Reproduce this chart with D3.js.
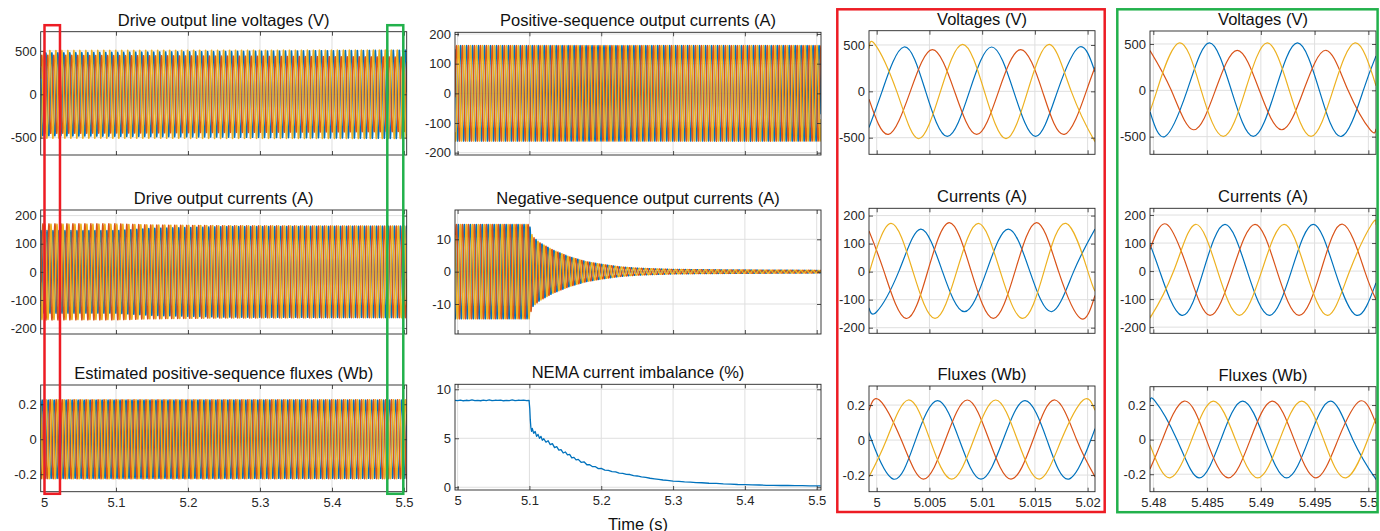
<!DOCTYPE html>
<html>
<head>
<meta charset="utf-8">
<script src="https://cdn.jsdelivr.net/npm/d3@7"></script>
<style>
  html, body { margin: 0; padding: 0; background: #fff; }
  svg { display: block; }
</style>
</head>
<body>
<svg id="fig" width="1380" height="531"></svg>
<script>
// ---------- tick values ----------
const overviewTicks = [5, 5.1, 5.2, 5.3, 5.4, 5.5];
const startTicks = [5, 5.005, 5.01, 5.015, 5.02];
const endTicks = [5.48, 5.485, 5.49, 5.495, 5.5];
const voltageTicks = [500, 0, -500];
const currentTicks = [200, 100, 0, -100, -200];
const fluxTicks = [0.2, 0, -0.2];
const negSeqTicks = [10, 0, -10];
const imbalanceTicks = [10, 5, 0];

// ---------- phase colours (a, b, c) ----------
const phaseColors = ["#0072BD", "#D95319", "#EDB120"];

// ---------- overview signals: 3-phase 120 Hz quantities ----------
const carrierHz = 120.2;
// time of a positive peak of each phase (a, b, c)
const voltagePeakTimes = [5.00259, 5.00528, 4.99984];
const currentPeakTimes = [5.00417, 5.00689, 5.00136];
const negSeqPeakTimes = [5.0010, 5.0066, 5.0038];
const fluxPeakTimes = [5.00578, 5.00025, 5.00300];

// amplitude envelopes (time points shared per quantity)
const voltageEnvelopeTimes = [4.99, 5.51];
const voltageAmplitudes = [[478, 511], [452, 430], [507, 511]];
const currentEnvelopeTimes = [4.99, 5.10, 5.15, 5.25, 5.51];
const currentAmplitudes = [[147, 147, 155, 161, 163], [171, 171, 167, 164, 163], [170, 170, 167, 164, 163]];
const posSeqEnvelopeTimes = [4.99, 5.51];
const posSeqAmplitudes = [[161, 161], [161, 161], [161, 161]];
const negSeqEnvelopeTimes = [4.99, 5.1, 5.1023, 5.1047, 5.114, 5.1326, 5.1558, 5.179, 5.2, 5.2256, 5.2488, 5.272, 5.3, 5.3419, 5.4116, 5.51];
const negSeqAmplitude = [14.6, 14.6, 12.2, 10.8, 9.0, 6.7, 4.6, 3.1, 2.3, 1.5, 1.1, 0.9, 0.7, 0.6, 0.5, 0.4];
const fluxEnvelopeTimes = [4.99, 5.51];
const fluxAmplitudes = [[0.224, 0.224], [0.226, 0.226], [0.226, 0.226]];

// NEMA current imbalance (%) versus time (s)
const nemaImbalance = [
  [4.9964, 8.86], [5.000, 8.84], [5.004, 8.90], [5.008, 8.83], [5.012, 8.88], [5.016, 8.85], [5.020, 8.92],
  [5.024, 8.84], [5.028, 8.87], [5.032, 8.83], [5.036, 8.89], [5.040, 8.85], [5.044, 8.91], [5.048, 8.84],
  [5.052, 8.88], [5.056, 8.86], [5.060, 8.90], [5.064, 8.83], [5.068, 8.87], [5.072, 8.85], [5.076, 8.91],
  [5.080, 8.84], [5.084, 8.88], [5.088, 8.86], [5.092, 8.89], [5.096, 8.85], [5.0995, 8.87],
  [5.1005, 8.0], [5.1012, 6.9], [5.102, 6.1], [5.103, 5.7], [5.104, 6.0], [5.106, 5.5], [5.108, 5.7],
  [5.110, 5.2], [5.112, 5.4], [5.114, 5.0], [5.116, 5.2], [5.118, 4.8], [5.120, 4.95],
  [5.123, 4.6], [5.126, 4.75], [5.129, 4.35], [5.132, 4.45], [5.135, 4.05], [5.138, 4.15], [5.141, 3.8],
  [5.144, 3.85], [5.147, 3.5], [5.150, 3.6], [5.153, 3.3], [5.156, 3.35], [5.159, 3.0], [5.162, 3.05],
  [5.165, 2.8], [5.168, 2.85], [5.172, 2.55], [5.176, 2.6], [5.180, 2.3], [5.184, 2.3], [5.188, 2.1],
  [5.192, 2.1], [5.196, 1.9], [5.200, 1.92], [5.205, 1.75], [5.210, 1.72], [5.215, 1.6], [5.220, 1.58],
  [5.225, 1.45], [5.230, 1.42], [5.235, 1.32], [5.240, 1.3], [5.245, 1.18], [5.250, 1.15], [5.256, 1.05],
  [5.262, 1.0], [5.268, 0.92], [5.274, 0.86], [5.280, 0.8], [5.286, 0.74], [5.292, 0.7], [5.300, 0.62],
  [5.308, 0.6], [5.316, 0.54], [5.324, 0.52], [5.332, 0.47], [5.340, 0.46], [5.350, 0.41], [5.360, 0.39],
  [5.370, 0.34], [5.380, 0.32], [5.390, 0.28], [5.400, 0.27], [5.410, 0.24], [5.420, 0.23], [5.430, 0.2],
  [5.440, 0.2], [5.450, 0.18], [5.460, 0.18], [5.470, 0.16], [5.480, 0.16], [5.490, 0.15], [5.500, 0.15],
  [5.5055, 0.14]
];

// ---------- detail window at the start of the record (t, value) ----------
const startVoltageA = [[4.99927,-390],[5.00051,0],[5.00259,478],[5.00464,0],[5.00670,-486],[5.00880,0],[5.01090,478],[5.01299,0],[5.01507,-486],[5.01714,0],[5.01921,478],[5.02070,210]];
const startVoltageB = [[4.99927,-85],[5.00111,-464],[5.00319,0],[5.00528,450],[5.00738,0],[5.00948,-464],[5.01156,0],[5.01365,450],[5.01572,0],[5.01779,-464],[5.01987,0],[5.02070,260]];
const startVoltageC = [[4.99927,461],[4.99984,507],[5.00190,0],[5.00395,-511],[5.00605,0],[5.00815,507],[5.01021,0],[5.01226,-511],[5.01431,0],[5.01637,507],[5.01845,0],[5.02054,-511],[5.02070,-508]];
const startCurrentA = [[4.99927,-129],[5.00000,-143],[5.00209,0],[5.00417,152],[5.00624,0],[5.00831,-143],[5.01040,0],[5.01248,152],[5.01453,0],[5.01659,-143],[5.01867,0],[5.02070,152]];
const startCurrentB = [[4.99927,145],[5.00070,0],[5.00278,-167],[5.00483,0],[5.00689,175],[5.00897,0],[5.01106,-167],[5.01311,0],[5.01517,175],[5.01725,0],[5.01934,-167],[5.02070,-85]];
const startCurrentC = [[4.99927,-6],[5.00136,172],[5.00344,0],[5.00553,-167],[5.00758,0],[5.00964,172],[5.01172,0],[5.01384,-167],[5.01586,0],[5.01795,172],[5.02003,0],[5.02070,-70]];
const startFluxA = [[4.99927,0.04],[4.99951,0],[5.00158,-0.223],[5.00368,0],[5.00578,0.225],[5.00784,0],[5.00989,-0.223],[5.01198,0],[5.01406,0.225],[5.01615,0],[5.01823,-0.223],[5.02030,0],[5.02070,0.066]];
const startFluxB = [[4.99927,0.17],[5.00025,0.229],[5.00234,0],[5.00442,-0.223],[5.00651,0],[5.00859,0.229],[5.01066,0],[5.01273,-0.223],[5.01482,0],[5.01690,0.229],[5.01897,0],[5.02070,-0.21]];
const startFluxC = [[4.99927,-0.21],[5.00092,0],[5.00300,0.229],[5.00506,0],[5.00711,-0.223],[5.00919,0],[5.01128,0.229],[5.01335,0],[5.01542,-0.223],[5.01750,0],[5.01959,0.229],[5.02070,0.17]];

// ---------- detail window at the end of the record (t, value) ----------
const endVoltageA = [[5.47969,-230],[5.48109,-497],[5.48315,0],[5.48521,511],[5.48726,0],[5.48930,-497],[5.49135,0],[5.49340,511],[5.49544,0],[5.49749,-497],[5.49953,0],[5.50071,370]];
const endVoltageB = [[5.47969,430],[5.48167,0],[5.48372,-425],[5.48577,0],[5.48781,432],[5.48986,0],[5.49194,-425],[5.49398,0],[5.49606,432],[5.49811,0],[5.50016,-425],[5.50071,-415]];
const endVoltageC = [[5.47969,-220],[5.48034,0],[5.48239,511],[5.48445,0],[5.48651,-497],[5.48856,0],[5.49060,511],[5.49264,0],[5.49467,-497],[5.49671,0],[5.49876,511],[5.50071,50]];
const endCurrentA = [[5.47969,95],[5.48059,0],[5.48264,-158],[5.48465,0],[5.48667,167],[5.48873,0],[5.49079,-158],[5.49284,0],[5.49488,167],[5.49690,0],[5.49891,-158],[5.50071,-42]];
const endCurrentB = [[5.47969,77],[5.48124,167],[5.48326,0],[5.48527,-158],[5.48735,0],[5.48946,167],[5.49150,0],[5.49355,-158],[5.49558,0],[5.49761,167],[5.49966,0],[5.50071,-101]];
const endCurrentC = [[5.47969,-157],[5.47984,-158],[5.48189,0],[5.48394,167],[5.48598,0],[5.48800,-158],[5.49008,0],[5.49216,167],[5.49419,0],[5.49622,-158],[5.49826,0],[5.50031,167],[5.50071,165]];
const endFluxA = [[5.47969,0.217],[5.48016,0.223],[5.48220,0],[5.48425,-0.221],[5.48628,0],[5.48831,0.223],[5.49036,0],[5.49240,-0.221],[5.49445,0],[5.49650,0.223],[5.49856,0],[5.50062,-0.221],[5.50071,-0.221]];
const endFluxB = [[5.47969,-0.17],[5.48084,0],[5.48288,0.223],[5.48493,0],[5.48698,-0.221],[5.48902,0],[5.49107,0.223],[5.49310,0],[5.49513,-0.221],[5.49718,0],[5.49922,0.223],[5.50071,0.092]];
const endFluxC = [[5.47969,-0.03],[5.48155,-0.221],[5.48357,0],[5.48558,0.223],[5.48764,0],[5.48971,-0.221],[5.49175,0],[5.49380,0.223],[5.49584,0],[5.49792,-0.221],[5.49994,0],[5.50071,0.126]];

// time spans of the two detail windows, marked on the overview
const detailWindows = [[5.0007, 5.0222], [5.4768, 5.4990]];

// ---------- drawing ----------
const FONT = '"Liberation Sans", Arial, Helvetica, sans-serif';
const INK = "#262626";
const GRID = "#dfdfdf";
const svg = d3.select("#fig");
const defs = svg.append("defs");

const leftDomain = [4.99542, 5.50375];
const midDomain = [4.99638, 5.50598];
const startDomain = [4.99927, 5.0207];
const endDomain = [5.47969, 5.50071];
const SAMPLE = 4e-5;

function synthesize(peakTimes, envTimes, envAmps, domain) {
  return peakTimes.map((tp, k) => {
    const env = d3.scaleLinear().domain(envTimes).range(envAmps[k]).clamp(true);
    return d3.range(domain[0], domain[1] + SAMPLE, SAMPLE)
      .map(t => [t, env(t) * Math.cos(2 * Math.PI * carrierHz * (t - tp))]);
  });
}
const repeat3 = a => [a, a, a];

const panels = [
  { box: [40.7, 31.7, 406.7, 155], xDomain: leftDomain, yDomain: [-700, 722], xTicks: overviewTicks, yTicks: voltageTicks,
    title: "Drive output line voltages (V)", lw: 1.4,
    series: synthesize(voltagePeakTimes, voltageEnvelopeTimes, voltageAmplitudes, leftDomain) },
  { box: [40.7, 210, 406.7, 334], xDomain: leftDomain, yDomain: [-221, 220], xTicks: overviewTicks, yTicks: currentTicks,
    title: "Drive output currents (A)", lw: 1.4,
    series: synthesize(currentPeakTimes, currentEnvelopeTimes, currentAmplitudes, leftDomain) },
  { box: [40.7, 385, 406.7, 491.7], xDomain: leftDomain, yDomain: [-0.3, 0.31], xTicks: overviewTicks, yTicks: fluxTicks,
    title: "Estimated positive-sequence fluxes (Wb)", lw: 1.4, xLabels: true,
    series: synthesize(fluxPeakTimes, fluxEnvelopeTimes, fluxAmplitudes, leftDomain) },
  { box: [455, 32.3, 821, 155], xDomain: midDomain, yDomain: [-207.7, 205.7], xTicks: overviewTicks, yTicks: currentTicks,
    title: "Positive-sequence output currents (A)", lw: 1.4,
    series: synthesize(currentPeakTimes, posSeqEnvelopeTimes, posSeqAmplitudes, midDomain) },
  { box: [455, 210, 821, 334], xDomain: midDomain, yDomain: [-19.27, 19.06], xTicks: overviewTicks, yTicks: negSeqTicks,
    title: "Negative-sequence output currents (A)", lw: 1.4,
    series: synthesize(negSeqPeakTimes, negSeqEnvelopeTimes, repeat3(negSeqAmplitude), midDomain) },
  { box: [455, 384.3, 821, 490], xDomain: midDomain, yDomain: [-0.28, 10.51], xTicks: overviewTicks, yTicks: imbalanceTicks,
    title: "NEMA current imbalance (%)", lw: 1.3, xLabels: true,
    series: [nemaImbalance], colors: [phaseColors[0]] },
  { box: [869, 30.7, 1095, 154.3], xDomain: startDomain, yDomain: [-679, 654], xTicks: startTicks, yTicks: voltageTicks,
    title: "Voltages (V)", lw: 1.2, curve: d3.curveNatural,
    series: [startVoltageA, startVoltageB, startVoltageC] },
  { box: [869, 208.3, 1095, 333.3], xDomain: startDomain, yDomain: [-220, 226], xTicks: startTicks, yTicks: currentTicks,
    title: "Currents (A)", lw: 1.2, curve: d3.curveNatural,
    series: [startCurrentA, startCurrentB, startCurrentC] },
  { box: [869, 386, 1095, 491.7], xDomain: startDomain, yDomain: [-0.295, 0.309], xTicks: startTicks, yTicks: fluxTicks,
    title: "Fluxes (Wb)", lw: 1.2, curve: d3.curveNatural, xLabels: true,
    series: [startFluxA, startFluxB, startFluxC] },
  { box: [1150, 31, 1376, 154.3], xDomain: endDomain, yDomain: [-690, 640], xTicks: endTicks, yTicks: voltageTicks,
    title: "Voltages (V)", lw: 1.2, curve: d3.curveNatural,
    series: [endVoltageA, endVoltageB, endVoltageC] },
  { box: [1150, 208.3, 1376, 333.3], xDomain: endDomain, yDomain: [-222, 224], xTicks: endTicks, yTicks: currentTicks,
    title: "Currents (A)", lw: 1.2, curve: d3.curveNatural,
    series: [endCurrentA, endCurrentB, endCurrentC] },
  { box: [1150, 386.7, 1376, 491.7], xDomain: endDomain, yDomain: [-0.301, 0.306], xTicks: endTicks, yTicks: fluxTicks,
    title: "Fluxes (Wb)", lw: 1.2, curve: d3.curveNatural, xLabels: true,
    series: [endFluxA, endFluxB, endFluxC] }
];

const scales = [];
panels.forEach((p, i) => {
  const [l, t, r, b] = p.box;
  const x = d3.scaleLinear().domain(p.xDomain).range([l, r]);
  const y = d3.scaleLinear().domain(p.yDomain).range([b, t]);
  scales.push(x);
  const g = svg.append("g");

  // grid
  g.append("g").selectAll("line").data(p.xTicks).join("line")
    .attr("x1", d => x(d)).attr("x2", d => x(d)).attr("y1", t).attr("y2", b)
    .attr("stroke", GRID).attr("stroke-width", 1);
  g.append("g").selectAll("line").data(p.yTicks).join("line")
    .attr("y1", d => y(d)).attr("y2", d => y(d)).attr("x1", l).attr("x2", r)
    .attr("stroke", GRID).attr("stroke-width", 1);

  // traces
  defs.append("clipPath").attr("id", "clip" + i)
    .append("rect").attr("x", l).attr("y", t).attr("width", r - l).attr("height", b - t);
  const line = d3.line().x(d => x(d[0])).y(d => y(d[1])).curve(p.curve || d3.curveLinear);
  if (line.digits) line.digits(2);
  const colors = p.colors || phaseColors;
  g.append("g").attr("clip-path", `url(#clip${i})`)
    .selectAll("path").data(p.series).join("path")
    .attr("d", s => line(s))
    .attr("fill", "none")
    .attr("stroke", (s, k) => colors[k])
    .attr("stroke-width", p.lw)
    .attr("stroke-linejoin", "round");

  // axes with inward ticks on all four sides
  const fmt = d => String(d);
  const styleAxis = sel => {
    sel.select(".domain").remove();
    sel.attr("font-size", 13).attr("font-family", FONT).style("color", INK);
    sel.selectAll(".tick line").attr("stroke-width", 0.8);
  };
  g.append("g").attr("transform", `translate(0,${b})`)
    .call(d3.axisBottom(x).tickValues(p.xTicks).tickSize(-4).tickPadding(6).tickFormat(p.xLabels ? fmt : () => ""))
    .call(styleAxis);
  g.append("g").attr("transform", `translate(0,${t})`)
    .call(d3.axisTop(x).tickValues(p.xTicks).tickSize(-4).tickFormat(() => ""))
    .call(styleAxis);
  g.append("g").attr("transform", `translate(${l},0)`)
    .call(d3.axisLeft(y).tickValues(p.yTicks).tickSize(-4).tickPadding(4).tickFormat(fmt))
    .call(styleAxis);
  g.append("g").attr("transform", `translate(${r},0)`)
    .call(d3.axisRight(y).tickValues(p.yTicks).tickSize(-4).tickFormat(() => ""))
    .call(styleAxis);

  // frame
  g.append("rect").attr("x", l).attr("y", t).attr("width", r - l).attr("height", b - t)
    .attr("fill", "none").attr("stroke", INK).attr("stroke-width", 0.9);

  // title
  g.append("text").attr("x", (l + r) / 2).attr("y", t - 6)
    .attr("text-anchor", "middle").attr("font-family", FONT).attr("font-size", 16.5)
    .attr("fill", "#111").text(p.title);
});

// shared x label of the middle column
svg.append("text").attr("x", (455 + 821) / 2).attr("y", 529.5)
  .attr("text-anchor", "middle").attr("font-family", FONT).attr("font-size", 16.5)
  .attr("fill", "#111").text("Time (s)");

// detail-window markers on the left column, and frames around the detail columns
const markColors = ["#ED1C24", "#22B14C"];
const xLeft = scales[0];
svg.append("g").selectAll("rect").data(detailWindows).join("rect")
  .attr("x", d => xLeft(d[0])).attr("width", d => xLeft(d[1]) - xLeft(d[0]))
  .attr("y", 25.2).attr("height", 493.8 - 25.2)
  .attr("fill", "none").attr("stroke", (d, k) => markColors[k]).attr("stroke-width", 2.5);

const detailFrames = [[837.3, 9.3, 1104.7, 512], [1117.3, 9.3, 1377.6, 512.2]];
svg.append("g").selectAll("rect").data(detailFrames).join("rect")
  .attr("x", d => d[0]).attr("y", d => d[1]).attr("width", d => d[2] - d[0]).attr("height", d => d[3] - d[1])
  .attr("fill", "none").attr("stroke", (d, k) => markColors[k]).attr("stroke-width", 2.5);
</script>
</body>
</html>
